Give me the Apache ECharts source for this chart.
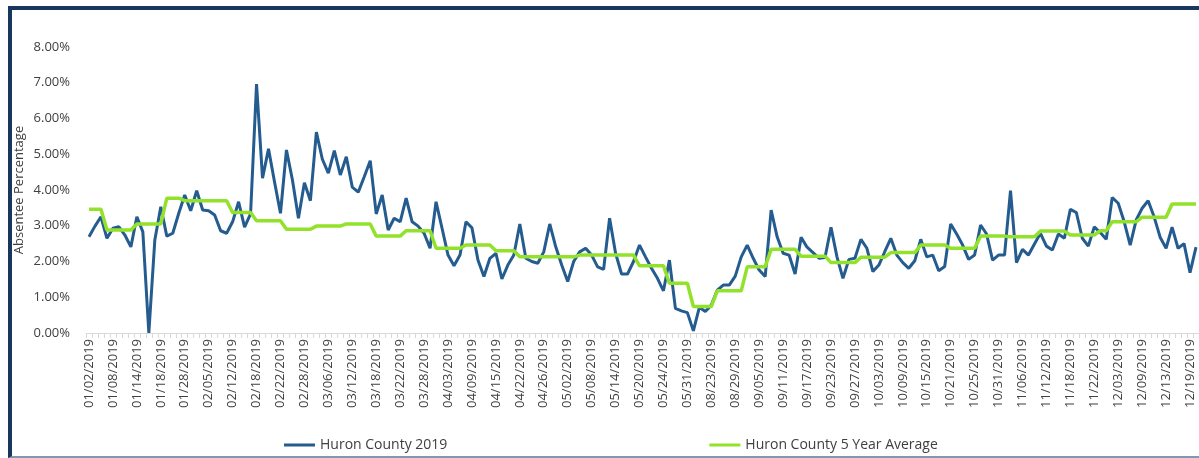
<!DOCTYPE html>
<html>
<head>
<meta charset="utf-8">
<script src="https://cdn.jsdelivr.net/npm/echarts@6/dist/echarts.min.js"></script>
<style>
  html, body { margin: 0; padding: 0; background: #fff; overflow: hidden; }
  #frame {
    position: absolute; left: 8px; top: 6px; width: 1260px; height: 446px;
    border-top: 4px solid #17375e; border-left: 4px solid #17375e;
    border-bottom: 2px solid #8497b0;
  }
  #main { position: absolute; left: 0; top: 0; width: 1199px; height: 458px; }
</style>
</head>
<body>
<div id="frame"></div>
<div id="main"></div>
<script>
// school days (x axis categories)
var days = [
  "01/02/2019","01/03/2019","01/04/2019","01/07/2019",
  "01/08/2019","01/09/2019","01/10/2019","01/11/2019",
  "01/14/2019","01/15/2019","01/16/2019","01/17/2019",
  "01/18/2019","01/22/2019","01/23/2019","01/24/2019",
  "01/28/2019","01/29/2019","02/01/2019","02/04/2019",
  "02/05/2019","02/06/2019","02/07/2019","02/08/2019",
  "02/12/2019","02/13/2019","02/14/2019","02/15/2019",
  "02/18/2019","02/19/2019","02/20/2019","02/21/2019",
  "02/22/2019","02/25/2019","02/26/2019","02/27/2019",
  "02/28/2019","03/01/2019","03/04/2019","03/05/2019",
  "03/06/2019","03/07/2019","03/08/2019","03/11/2019",
  "03/12/2019","03/13/2019","03/14/2019","03/15/2019",
  "03/18/2019","03/19/2019","03/20/2019","03/21/2019",
  "03/22/2019","03/25/2019","03/26/2019","03/27/2019",
  "03/28/2019","03/29/2019","04/01/2019","04/02/2019",
  "04/03/2019","04/04/2019","04/05/2019","04/08/2019",
  "04/09/2019","04/10/2019","04/11/2019","04/12/2019",
  "04/15/2019","04/16/2019","04/17/2019","04/18/2019",
  "04/22/2019","04/23/2019","04/24/2019","04/25/2019",
  "04/26/2019","04/29/2019","04/30/2019","05/01/2019",
  "05/02/2019","05/03/2019","05/06/2019","05/07/2019",
  "05/08/2019","05/09/2019","05/10/2019","05/13/2019",
  "05/14/2019","05/15/2019","05/16/2019","05/17/2019",
  "05/20/2019","05/21/2019","05/22/2019","05/23/2019",
  "05/24/2019","05/28/2019","05/29/2019","05/30/2019",
  "05/31/2019","08/20/2019","08/21/2019","08/22/2019",
  "08/23/2019","08/26/2019","08/27/2019","08/28/2019",
  "08/29/2019","08/30/2019","09/03/2019","09/04/2019",
  "09/05/2019","09/06/2019","09/09/2019","09/10/2019",
  "09/11/2019","09/12/2019","09/13/2019","09/16/2019",
  "09/17/2019","09/18/2019","09/19/2019","09/20/2019",
  "09/23/2019","09/24/2019","09/25/2019","09/26/2019",
  "09/27/2019","09/30/2019","10/01/2019","10/02/2019",
  "10/03/2019","10/04/2019","10/07/2019","10/08/2019",
  "10/09/2019","10/10/2019","10/11/2019","10/14/2019",
  "10/15/2019","10/16/2019","10/17/2019","10/18/2019",
  "10/21/2019","10/22/2019","10/23/2019","10/24/2019",
  "10/25/2019","10/28/2019","10/29/2019","10/30/2019",
  "10/31/2019","11/01/2019","11/04/2019","11/05/2019",
  "11/06/2019","11/07/2019","11/08/2019","11/11/2019",
  "11/12/2019","11/13/2019","11/14/2019","11/15/2019",
  "11/18/2019","11/19/2019","11/20/2019","11/21/2019",
  "11/22/2019","11/25/2019","11/26/2019","12/02/2019",
  "12/03/2019","12/04/2019","12/05/2019","12/06/2019",
  "12/09/2019","12/10/2019","12/11/2019","12/12/2019",
  "12/13/2019","12/16/2019","12/17/2019","12/18/2019",
  "12/19/2019","12/20/2019"
];

// Huron County 2019 absentee %
var huron2019 = [
  2.69, 2.99, 3.25, 2.65,   2.93, 2.97, 2.74, 2.41,
  3.25, 2.83, 0.00, 2.60,   3.53, 2.71, 2.79, 3.35,
  3.86, 3.42, 3.98, 3.44,   3.42, 3.30, 2.86, 2.79,
  3.11, 3.67, 2.96, 3.33,   6.96, 4.33, 5.15, 4.23,
  3.35, 5.12, 4.28, 3.21,   4.20, 3.70, 5.62, 4.86,
  4.47, 5.10, 4.42, 4.93,   4.08, 3.94, 4.37, 4.82,
  3.33, 3.86, 2.88, 3.21,   3.11, 3.77, 3.11, 2.99,
  2.79, 2.37, 3.67, 2.93,   2.18, 1.88, 2.18, 3.11,
  2.94, 2.04, 1.58, 2.09,   2.23, 1.51, 1.90, 2.18,
  3.05, 2.09, 2.00, 1.95,   2.27, 3.05, 2.41, 1.90,
  1.44, 2.00, 2.27, 2.37,   2.18, 1.85, 1.78, 3.21,
  2.23, 1.65, 1.65, 2.00,   2.46, 2.13, 1.81, 1.53,
  1.18, 2.04, 0.69, 0.62,   0.57, 0.06, 0.72, 0.60,
  0.78, 1.20, 1.34, 1.34,   1.59, 2.13, 2.46, 2.09,
  1.76, 1.58, 3.44, 2.69,   2.23, 2.18, 1.65, 2.68,
  2.40, 2.25, 2.09, 2.11,   2.96, 2.13, 1.53, 2.06,
  2.09, 2.62, 2.37, 1.72,   1.90, 2.28, 2.65, 2.18,
  1.97, 1.81, 2.02, 2.62,   2.13, 2.18, 1.74, 1.86,
  3.05, 2.77, 2.46, 2.06,   2.18, 3.02, 2.77, 2.04,
  2.18, 2.18, 3.98, 1.97,   2.34, 2.18, 2.49, 2.79,
  2.43, 2.32, 2.77, 2.65,   3.46, 3.37, 2.65, 2.43,
  2.97, 2.81, 2.62, 3.79,   3.63, 3.11, 2.46, 3.16,
  3.49, 3.70, 3.25, 2.68,   2.37, 2.96, 2.37, 2.50,
  1.69, 2.40
];

// Huron County 5 year average (weekly steps)
var huron5yr = [
  3.46, 3.46, 3.46,
  2.88, 2.88, 2.88, 2.88, 2.88,
  3.05, 3.05, 3.05, 3.05, 3.05,
  3.77, 3.77, 3.77,
  3.70, 3.70, 3.70,
  3.70, 3.70, 3.70, 3.70, 3.70,
  3.37, 3.37, 3.37, 3.37,
  3.14, 3.14, 3.14, 3.14, 3.14,
  2.90, 2.90, 2.90, 2.90, 2.90,
  2.99, 2.99, 2.99, 2.99, 2.99,
  3.05, 3.05, 3.05, 3.05, 3.05,
  2.71, 2.71, 2.71, 2.71, 2.71,
  2.86, 2.86, 2.86, 2.86, 2.86,
  2.37, 2.37, 2.37, 2.37, 2.37,
  2.46, 2.46, 2.46, 2.46, 2.46,
  2.30, 2.30, 2.30, 2.30,
  2.13, 2.13, 2.13, 2.13, 2.13,
  2.13, 2.13, 2.13, 2.13, 2.13,
  2.18, 2.18, 2.18, 2.18, 2.18,
  2.18, 2.18, 2.18, 2.18, 2.18,
  1.88, 1.88, 1.88, 1.88, 1.88,
  1.39, 1.39, 1.39, 1.39,
  0.74, 0.74, 0.74, 0.74,
  1.18, 1.18, 1.18, 1.18, 1.18,
  1.85, 1.85, 1.85, 1.85,
  2.34, 2.34, 2.34, 2.34, 2.34,
  2.15, 2.15, 2.15, 2.15, 2.15,
  1.97, 1.97, 1.97, 1.97, 1.97,
  2.12, 2.12, 2.12, 2.12, 2.12,
  2.25, 2.25, 2.25, 2.25, 2.25,
  2.46, 2.46, 2.46, 2.46, 2.46,
  2.37, 2.37, 2.37, 2.37, 2.37,
  2.71, 2.71, 2.71, 2.71, 2.71,
  2.69, 2.69, 2.69, 2.69, 2.69,
  2.85, 2.85, 2.85, 2.85, 2.85,
  2.74, 2.74, 2.74, 2.74, 2.74,
  2.86, 2.86,
  3.11, 3.11, 3.11, 3.11, 3.11,
  3.24, 3.24, 3.24, 3.24, 3.24,
  3.61, 3.61, 3.61, 3.61, 3.61
];

var yTicks = [0, 8, 1]; // min, max, step (percent)

var txt = '#404040';
var font = 'Open Sans';

var myChart = echarts.init(document.getElementById('main'));
var option = {
  animation: false,
  textStyle: { fontFamily: font },
  grid: { left: 86, right: -3, top: 47, bottom: 125 },
  legend: {
    left: 279, top: 433,
    itemWidth: 31, itemHeight: 3, itemGap: 262,
    icon: 'rect',
    textStyle: { fontSize: 14, color: txt, fontFamily: font },
    data: ['Huron County 2019', 'Huron County 5 Year Average']
  },
  xAxis: {
    type: 'category',
    data: days,
    boundaryGap: true,
    axisLine: { lineStyle: { color: '#d9d9d9', width: 1 } },
    axisTick: { show: true, interval: 0, length: 5, lineStyle: { color: '#d9d9d9' } },
    axisLabel: { interval: 3, rotate: 90, fontSize: 13, color: txt, fontFamily: font, margin: 6 }
  },
  yAxis: {
    type: 'value',
    min: yTicks[0], max: yTicks[1], interval: yTicks[2],
    name: 'Absentee Percentage',
    nameLocation: 'middle',
    nameRotate: 90,
    nameGap: 60,
    nameMoveOverlap: false,
    nameTextStyle: { fontSize: 13, color: txt, fontFamily: font },
    axisLine: { show: false },
    axisTick: { show: false },
    splitLine: { show: false },
    axisLabel: {
      fontSize: 13, color: txt, fontFamily: font, margin: 16,
      formatter: function (v) { return v.toFixed(2) + '%'; }
    }
  },
  series: [
    {
      name: 'Huron County 2019',
      type: 'line',
      data: huron2019,
      symbol: 'none',
      itemStyle: { color: '#245c8f' },
      lineStyle: { color: '#245c8f', width: 3 }
    },
    {
      name: 'Huron County 5 Year Average',
      type: 'line',
      data: huron5yr,
      symbol: 'none',
      itemStyle: { color: '#92e22c' },
      lineStyle: { color: '#92e22c', width: 3.5 }
    }
  ]
};
myChart.setOption(option);
</script>
</body>
</html>
